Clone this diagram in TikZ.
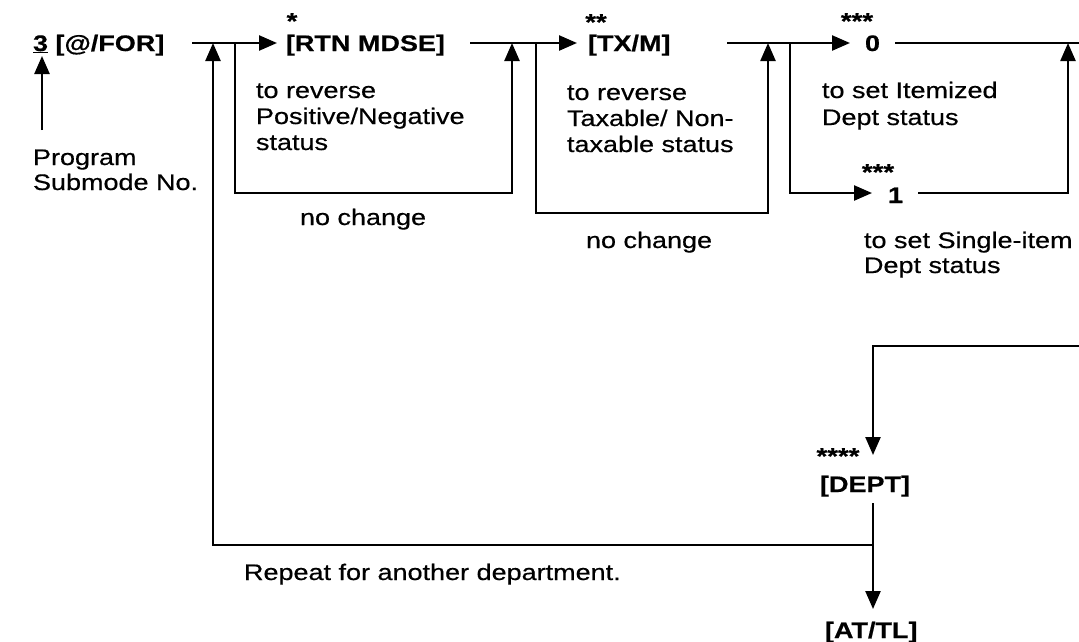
\documentclass[tikz,border=0pt]{standalone}
\usepackage{fontspec}
\setmainfont{Liberation Sans}[FakeStretch=1.2, FakeBold=0.5]
\usetikzlibrary{arrows.meta}
\begin{document}
\begin{tikzpicture}[x=1pt,y=-1pt,
  ln/.style={line width=2.4pt},
  arr/.style={line width=2.4pt,-{Triangle[length=18pt,width=15pt]}},
  key/.style={font=\fontsize{22.5}{26}\selectfont\bfseries, inner sep=0pt, outer sep=0pt, anchor=base west},
  txt/.style={font=\fontsize{22.5}{26}\selectfont, inner sep=0pt, outer sep=0pt, anchor=base west, align=left},
  star/.style={font=\fontsize{23}{23}\selectfont\bfseries, inner sep=0pt, anchor=base, text height=17pt, text depth=-9pt}]
\useasboundingbox (0,0) rectangle (1079,641);

% key nodes
\node[key] (n3)   at (33,51)  {\underline{3} [@/FOR]};
\node[key] (rtn)  at (286,51) {[RTN MDSE]};
\node[key] (txm)  at (588,51) {[TX/M]};
\node[key] (zero) at (865,51) {0};
\node[key] (one)  at (888,203) {1};
\node[key] (dept) at (820,492) {[DEPT]};
\node[key] (attl) at (825,638) {[AT/TL]};

% stars
\node[star] (s1) at (292,29)  {*};
\node[star] (s2) at (596,30)  {**};
\node[star] (s3) at (857,29)  {***};
\node[star] (s4) at (878,180) {***};
\node[star] (s5) at (838,464) {****};

% texts (base = baseline of last line)
\node[txt, font=\fontsize{22.5}{25}\selectfont] (prog) at (33,190) {Program\\Submode No.};
\node[txt] (t1) at (256,150)  {to reverse\\Positive/Negative\\status};
\node[txt] (t2) at (567,152) {to reverse\\Taxable/ Non-\\taxable status};
\node[txt, font=\fontsize{22.5}{27}\selectfont] (t3) at (822,125) {to set Itemized\\Dept status};
\node[txt, font=\fontsize{22.5}{25}\selectfont] (t4) at (864,273) {to set Single-item\\Dept status};
\node[txt] (nc1) at (300,225) {no change};
\node[txt] (nc2) at (586,248) {no change};
\node[txt] (rep) at (244,580) {Repeat for another department.};

% junction coordinates
\coordinate (pA) at (42,130);
\coordinate (pB) at (42,56);
\coordinate (m0) at (192,43);
\coordinate (rtnE) at (470,43);
\coordinate (txmE) at (727,43);
\coordinate (zeroE) at (895,43);
\coordinate (edge0) at (1079,43);
\coordinate (oneE) at (918,193);
\coordinate (jL1) at (235,43);
\coordinate (bL1) at (512,193);
\coordinate (jL2) at (536,43);
\coordinate (bL2) at (768,213);
\coordinate (jBr) at (790,43);
\coordinate (rUp) at (1068,193);
\coordinate (edgeR) at (1079,346);
\coordinate (dTop) at (873,346);
\coordinate (dTip) at (873,455);
\coordinate (dOut) at (873,503);
\coordinate (aTip) at (873,609);
\coordinate (jR) at (873,545);
\coordinate (rpL) at (213,545);

% connectors
\draw[arr] (pA) -- (pB);
\draw[arr] (m0) -- ([xshift=-9pt]rtn.west |- m0);
\draw[arr] (jL1) |- (bL1) -- (bL1 |- m0);
\draw[arr] (rtnE) -- ([xshift=-11pt]txm.west |- m0);
\draw[arr] (jL2) |- (bL2) -- (bL2 |- m0);
\draw[arr] (txmE) -- ([xshift=-15pt]zero.west |- m0);
\draw[arr] (jBr) |- ([xshift=-16pt]one.west |- oneE);
\draw[ln] (zeroE) -- (edge0);
\draw[arr] (oneE) -- (rUp) -- (rUp |- m0);
\draw[arr] (edgeR) -- (dTop) -- (dTip);
\draw[arr] (dOut) -- (aTip);
\draw[arr] (jR) -- (rpL) -- (rpL |- m0);
\end{tikzpicture}
\end{document}
